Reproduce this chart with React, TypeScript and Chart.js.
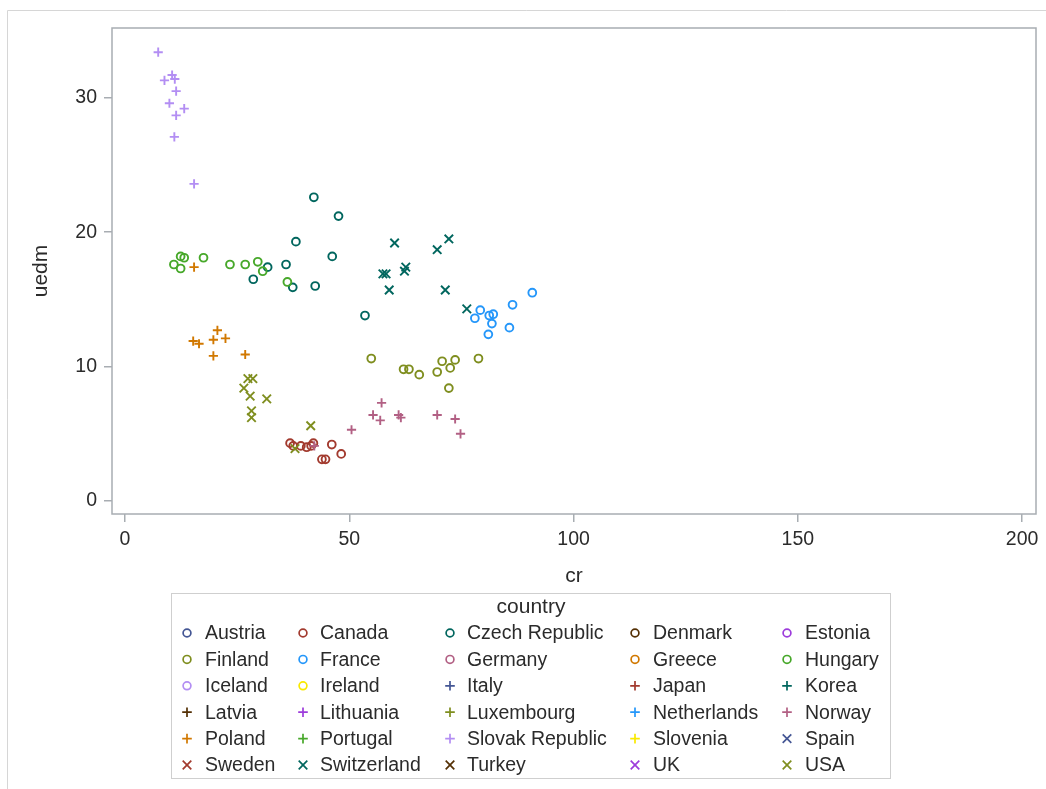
import React, { useEffect, useRef } from 'react';
import { Chart, registerables } from 'chart.js';

Chart.register(...registerables);

// ---------- data ----------
const countries = [
  'Austria', 'Canada', 'Czech Republic', 'Denmark', 'Estonia',
  'Finland', 'France', 'Germany', 'Greece', 'Hungary',
  'Iceland', 'Ireland', 'Italy', 'Japan', 'Korea',
  'Latvia', 'Lithuania', 'Luxembourg', 'Netherlands', 'Norway',
  'Poland', 'Portugal', 'Slovak Republic', 'Slovenia', 'Spain',
  'Sweden', 'Switzerland', 'Turkey', 'UK', 'USA',
];

const groupColors = [
  '#445694', '#A23A2E', '#01665E', '#543005', '#9D3CDB', '#7F8E1F',
  '#2597FA', '#B26084', '#D17800', '#47A82A', '#B38EF3', '#F9E900',
];

const xTicks = [0, 50, 100, 150, 200];
const yTicks = [0, 10, 20, 30];

const crSlovak = [7.4, 10.5, 8.8, 11.1, 11.4, 9.9, 13.2, 11.4, 11.0, 15.4];
const uedmSlovak = [33.4, 31.7, 31.3, 31.4, 30.5, 29.6, 29.2, 28.7, 27.1, 23.6];

const crHungary = [12.4, 13.2, 10.9, 12.4, 17.5, 23.4, 26.8, 29.6, 30.7, 36.2];
const uedmHungary = [18.2, 18.1, 17.6, 17.3, 18.1, 17.6, 17.6, 17.8, 17.1, 16.3];

const crPoland = [15.4, 20.6, 22.4, 19.7, 15.2, 16.5, 19.7, 26.8];
const uedmPoland = [17.4, 12.7, 12.1, 12.0, 11.9, 11.7, 10.8, 10.9];

const crCzech = [42.1, 47.6, 38.1, 46.2, 35.9, 31.8, 28.6, 37.4, 42.4, 53.5];
const uedmCzech = [22.6, 21.2, 19.3, 18.2, 17.6, 17.4, 16.5, 15.9, 16.0, 13.8];

const crSwitzerland = [60.1, 72.2, 69.6, 62.6, 62.3, 57.5, 58.2, 58.9, 71.4, 76.2];
const uedmSwitzerland = [19.2, 19.5, 18.7, 17.4, 17.1, 16.9, 16.9, 15.7, 15.7, 14.3];

const crFrance = [90.8, 86.4, 79.2, 78.0, 81.2, 82.1, 81.8, 85.7, 81.0];
const uedmFrance = [15.5, 14.6, 14.2, 13.6, 13.8, 13.9, 13.2, 12.9, 12.4];

const crFinland = [54.9, 62.1, 63.3, 65.6, 69.6, 70.7, 72.5, 73.6, 78.8, 72.2];
const uedmFinland = [10.6, 9.8, 9.8, 9.4, 9.6, 10.4, 9.9, 10.5, 10.6, 8.4];

const crNorway = [57.2, 55.3, 56.9, 61.0, 61.5, 69.6, 73.6, 74.8, 50.5, 42.2];
const uedmNorway = [7.3, 6.4, 6.0, 6.4, 6.2, 6.4, 6.1, 5.0, 5.3, 4.1];

const crUSA = [27.4, 28.5, 26.5, 27.9, 31.6, 28.2, 28.2, 41.4, 37.9];
const uedmUSA = [9.1, 9.1, 8.4, 7.8, 7.6, 6.7, 6.2, 5.6, 3.9];

const crCanada = [36.8, 37.5, 39.2, 40.5, 41.5, 42.0, 46.1, 48.2, 43.9, 44.7];
const uedmCanada = [4.3, 4.1, 4.1, 4.0, 4.1, 4.3, 4.2, 3.5, 3.1, 3.1];

const seriesByCountry: Record<string, [number[], number[]]> = {
  'Canada': [crCanada, uedmCanada],
  'Czech Republic': [crCzech, uedmCzech],
  'Finland': [crFinland, uedmFinland],
  'France': [crFrance, uedmFrance],
  'Hungary': [crHungary, uedmHungary],
  'Norway': [crNorway, uedmNorway],
  'Poland': [crPoland, uedmPoland],
  'Slovak Republic': [crSlovak, uedmSlovak],
  'Switzerland': [crSwitzerland, uedmSwitzerland],
  'USA': [crUSA, uedmUSA],
};

// ---------- styles ----------
const FONT = "'Liberation Sans', Arial, sans-serif";
const AXIS_COLOR = '#a8adb2';
const TEXT_COLOR = '#2b2b2b';

type Marker = 'circle' | 'cross' | 'crossRot';
const markerOf = (i: number): Marker => (i < 12 ? 'circle' : i < 24 ? 'cross' : 'crossRot');
const radiusOf = (m: Marker) => (m === 'circle' ? 3.9 : m === 'cross' ? 4.6 : 6.0);

const legendMarkerX = [187, 303, 450, 635, 787];
const legendTextX = [205, 320, 467, 653, 805];

function drawMarker(ctx: CanvasRenderingContext2D, m: Marker, x: number, y: number, color: string) {
  ctx.save();
  ctx.strokeStyle = color;
  ctx.lineWidth = 1.7;
  ctx.beginPath();
  if (m === 'circle') {
    ctx.arc(x, y, 3.9, 0, Math.PI * 2);
  } else if (m === 'cross') {
    ctx.moveTo(x - 4.8, y); ctx.lineTo(x + 4.8, y);
    ctx.moveTo(x, y - 4.8); ctx.lineTo(x, y + 4.8);
  } else {
    ctx.moveTo(x - 4.3, y - 4.3); ctx.lineTo(x + 4.3, y + 4.3);
    ctx.moveTo(x - 4.3, y + 4.3); ctx.lineTo(x + 4.3, y - 4.3);
  }
  ctx.stroke();
  ctx.restore();
}

const decorPlugin = {
  id: 'decor',
  beforeDraw(chart: any) {
    const ctx = chart.ctx as CanvasRenderingContext2D;
    ctx.save();
    ctx.fillStyle = '#ffffff';
    ctx.fillRect(0, 0, chart.width, chart.height);
    ctx.strokeStyle = '#d6d6d6';
    ctx.lineWidth = 1;
    ctx.beginPath();
    ctx.moveTo(7.5, chart.height);
    ctx.lineTo(7.5, 10.5);
    ctx.lineTo(chart.width, 10.5);
    ctx.stroke();
    ctx.restore();
  },
  beforeDatasetsDraw(chart: any) {
    const ctx = chart.ctx as CanvasRenderingContext2D;
    const { left, top, right, bottom } = chart.chartArea;
    ctx.save();
    ctx.strokeStyle = AXIS_COLOR;
    ctx.lineWidth = 1.5;
    ctx.strokeRect(left, top, right - left, bottom - top);
    ctx.restore();
  },
  afterDraw(chart: any) {
    const ctx = chart.ctx as CanvasRenderingContext2D;
    ctx.save();
    // legend box
    ctx.strokeStyle = '#cfcfcf';
    ctx.lineWidth = 1;
    ctx.strokeRect(171.5, 593.5, 719, 185);
    ctx.fillStyle = TEXT_COLOR;
    ctx.font = `21px ${FONT}`;
    ctx.textAlign = 'center';
    ctx.textBaseline = 'middle';
    ctx.fillText('country', 531, 607);
    ctx.font = `19.5px ${FONT}`;
    ctx.textAlign = 'left';
    countries.forEach((name, i) => {
      const row = Math.floor(i / 5);
      const col = i % 5;
      const y = 633 + row * 26.4;
      drawMarker(ctx, markerOf(i), legendMarkerX[col], y, groupColors[i % 12]);
      ctx.fillStyle = TEXT_COLOR;
      ctx.fillText(name, legendTextX[col], y + 1);
    });
    ctx.restore();
  },
};

export default function App() {
  const ref = useRef<HTMLCanvasElement | null>(null);

  useEffect(() => {
    if (!ref.current) return;
    const datasets = countries.map((name, i) => {
      const m = markerOf(i);
      const s = seriesByCountry[name] || [[], []];
      return {
        label: name,
        data: s[0].map((x, k) => ({ x, y: s[1][k] })),
        pointStyle: m,
        pointRadius: radiusOf(m),
        pointHoverRadius: radiusOf(m),
        pointBorderWidth: 1.9,
        borderColor: groupColors[i % 12],
        backgroundColor: 'rgba(0,0,0,0)',
        showLine: false,
        order: countries.length - i,
      };
    });

    const tickFont = { family: FONT, size: 19.5 };
    const titleFont = { family: FONT, size: 21 };

    const chart = new Chart(ref.current, {
      type: 'scatter',
      data: { datasets },
      options: {
        responsive: false,
        animation: false,
        devicePixelRatio: 1,
        events: [],
        layout: { padding: { left: 25, top: 28, right: 10, bottom: 196.4 } },
        plugins: { legend: { display: false }, tooltip: { enabled: false } },
        scales: {
          x: {
            type: 'linear',
            min: -2.9,
            max: 203.1,
            afterBuildTicks: (scale: any) => { scale.ticks = xTicks.map((v) => ({ value: v })); },
            afterFit: (scale: any) => { scale.height = 78.6; },
            grid: { drawOnChartArea: false, drawTicks: true, tickLength: 8, color: AXIS_COLOR, lineWidth: 1.5 },
            border: { display: false },
            ticks: { font: tickFont, color: TEXT_COLOR, padding: 6, maxRotation: 0 },
            title: { display: true, text: 'cr', font: titleFont, color: TEXT_COLOR, padding: { top: 4, bottom: 4 } },
          },
          y: {
            type: 'linear',
            min: -0.97,
            max: 35.2,
            afterBuildTicks: (scale: any) => { scale.ticks = yTicks.map((v) => ({ value: v })); },
            afterFit: (scale: any) => { scale.width = 87; },
            grid: { drawOnChartArea: false, drawTicks: true, tickLength: 8, color: AXIS_COLOR, lineWidth: 1.5 },
            border: { display: false },
            ticks: { font: tickFont, color: TEXT_COLOR, padding: 7 },
            title: { display: true, text: 'uedm', font: titleFont, color: TEXT_COLOR, padding: { top: 4, bottom: 4 } },
          },
        },
      },
      plugins: [decorPlugin],
    } as any);

    return () => chart.destroy();
  }, []);

  return (
    <canvas
      ref={ref}
      width={1046}
      height={789}
      style={{ position: 'absolute', left: 0, top: 0, display: 'block' }}
    />
  );
}
